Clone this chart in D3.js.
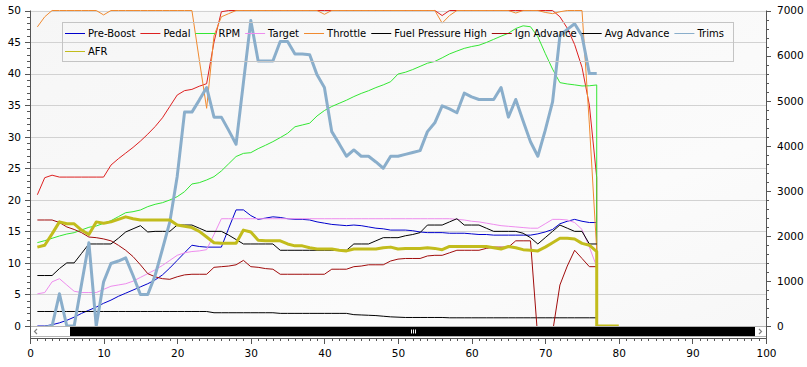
<!DOCTYPE html>
<html>
<head>
<meta charset="utf-8">
<script src="https://cdn.jsdelivr.net/npm/d3@7"></script>
<style>
  body { margin: 0; background: #ffffff; }
  svg { display: block; font-family: "DejaVu Sans", sans-serif; }
</style>
</head>
<body>
<svg></svg>
<script>
// Sample index along the x axis (one logged sample per step)
let sampleX = d3.range(1, 78);

// Series values (left axis unless noted)
let preBoost = [0,0,0.2,0.5,0.9,1.4,2.0,2.5,3.0,3.6, 4.1,4.7,5.2,5.7,6.2,6.7,7.3,8.1,9.2,10.4,
  11.6,12.8,12.6,12.5,12.5,12.5,15.5,18.4,18.4,17.5, 16.9,17.1,17.3,17.2,17.0,16.9,16.9,16.8,16.5,16.3,
  16.1,16.0,15.9,16.0,15.9,15.7,15.5,15.4,15.2,15.2, 15.2,15.1,14.9,14.8,14.8,14.8,14.7,14.7,14.7,14.6,
  14.5,14.5,14.4,14.4,14.4,14.4,14.4,14.4,14.6,14.9, 15.3,16.2,16.6,16.9,16.6,16.4,16.4];

let pedal = [20.8,23.5,23.9,23.6,23.6,23.6,23.6,23.6,23.6,23.6, 25.5,26.5,27.4,28.3,29.3,30.4,31.6,33.0,34.8,36.6,
  37.3,37.5,38.0,38.4,45.0,49.8,50,50,50,50, 50,50,50,50,50,50,50,50,50,50,
  50,50,50,50,50,50,50,50,50,50, 50,50,50,50,50,49.2,50,50,50,50,
  50,50,50,50,50,50,50,50,50,50, 50,49.0,47.2,44.6,41.0,35.0,23.5];

// right axis (rpm)
let rpm = [1850,1893,1946,1997,2041,2070,2130,2190,2219,2279, 2337,2425,2514,2536,2574,2648,2700,2736,2796,2869,
  2980,3151,3180,3240,3313,3440,3600,3760,3830,3846, 3935,4010,4090,4180,4276,4420,4460,4500,4660,4780,
  4870,4940,5010,5090,5160,5220,5290,5350,5420,5590, 5630,5690,5760,5830,5870,5950,6036,6100,6160,6200,
  6230,6290,6360,6430,6495,6600,6660,6640,6420,6050, 5700,5400,5370,5350,5326,5330,5348];

let target = [5.1,5.3,7.0,7.5,6.5,5.5,5.3,5.3,5.3,5.8, 6.3,6.5,6.7,7.1,7.7,8.3,8.9,9.6,10.4,11.2,
  11.6,11.8,11.9,12.1,14.5,17.0,17,17,17,17, 17,17,17,17,17,17,17,17,17,17,
  17,17,17,17,17,17,17,17,17,17, 17,17,17,17,17,17,17,16.9,16.8,16.6,
  16.5,16.3,16.1,15.9,15.8,15.7,15.6,15.5,15.5,16.2, 16.9,16.9,16.8,16.4,15.3,12.5,9.4];

let throttle = [47.4,49,50,50,50,50,50,50,50,49.3, 50,50,50,50,50,50,50,50,50,50,
  50,50,42.2,34.5,46,49,49.5,50,50,50, 50,50,50,50,50,50,50,50,50,49.4,
  50,50,50,50,50,50,50,50,50,50, 50,50,50,50,50,48,49.2,50,50,50,
  50,50,50,50,50,49.6,50,50,50,49.7, 49.5,49.8,50,50,50,32,12];

let fuelPressureHigh = [2.3,2.3,2.3,2.3,2.3,2.3,2.3,2.3,2.3,2.3, 2.3,2.3,2.3,2.3,2.3,2.3,2.3,2.3,2.3,2.3,
  2.3,2.3,2.3,2.3,2.1,2.1,2.1,2.1,2.1,2.1, 2.1,2.1,2.1,2.0,2.0,2.0,2.0,2.0,2.0,2.0,
  2.0,2.0,2.0,1.8,1.75,1.7,1.65,1.55,1.45,1.4, 1.35,1.35,1.35,1.35,1.35,1.35,1.3,1.3,1.3,1.3,
  1.3,1.3,1.3,1.3,1.3,1.3,1.3,1.3,1.3,1.3, 1.3,1.3,1.3,1.3,1.3,1.3,1.3];

let ignAdvance = [16.8,16.8,16.8,16.4,15.7,15.3,14.8,14.1,14.0,13.8, 13.5,12.8,12.0,11.0,9.7,8.3,7.8,7.5,7.4,7.8,
  8.1,8.2,8.2,8.2,9.3,9.4,9.5,9.7,10.4,9.4, 9.3,9.1,9.0,8.2,8.2,8.2,8.2,8.2,8.2,8.2,
  9.0,9.0,9.0,9.4,9.5,9.7,9.7,9.7,10.3,10.6, 10.7,10.7,10.7,11.1,11.2,11.2,11.6,12.0,12.0,12.0,
  12.0,12.3,12.5,12.5,12.5,13.5,13.5,13.5,-2,-4, -1,6.5,9.5,12.0,10.7,9.4,9.4];

let avgAdvance = [8,8,8,9.1,10,10,11.5,13,13,13, 13,13.9,14.9,15.4,15.9,14.9,15,15,15,16,
  16,16,15.5,15,15,15,14.4,13.7,13,13, 13,13,13,12,12,12,12,12,12,12,
  12,12,12,13,13,13,13.5,14,14,14, 14.3,14.5,14.8,16,16,16,16.5,17,16,16,
  16,15.5,15,15,15,15,14.7,14,13,14, 15,16,15.5,15,15,13,13];

let trims = [-0.5,-0.2,0,5.1,0,0,6.6,13.2,0,7.0, 9.9,10.3,10.8,8.0,5.0,5.0,8.0,12.2,16.5,23.7,
  33.9,33.9,35.8,37.8,33.1,33.1,31.0,28.8,38.6,48.4, 42,42,42,45.1,45.1,43.1,43.1,43.0,39.8,37.8,
  30.8,28.9,26.9,27.9,26.9,26.9,26.0,25.0,26.9,26.9, 27.2,27.5,27.8,30.8,32.2,34.9,34.4,33.8,36.9,36.3,
  35.9,35.9,35.9,37.8,33.1,35.9,32.5,29.2,26.9,31.0, 35.5,46,47,47.9,46,40,40];

let afr = [12.5,12.8,14.6,16.5,16.2,16.2,15.2,14.5,16.5,16.3, 16.5,16.9,17.3,17.0,16.8,16.8,16.8,16.8,16.8,16.0,
  15.8,15.6,15.0,14.1,13.2,13.1,13.1,13.1,15.2,14.9, 13.6,13.5,13.5,13.5,13.0,12.7,12.7,12.4,12.2,12.2,
  12.2,12.0,11.9,12.2,12.2,12.2,12.2,12.4,12.5,12.2, 12.3,12.3,12.3,12.4,12.3,12.1,12.6,12.6,12.6,12.6,
  12.6,12.6,12.4,12.2,12.6,12.4,12.1,12.0,11.9,12.5, 13.2,13.9,13.9,13.8,13.1,12.8,11.8];

// Logging stops at sample 77: these channels fall to zero there
let dropX = 77;
let droppingSeries = ['Pedal', 'Throttle', 'RPM', 'AFR'];
let afrTailEndX = 80;

// Axis ticks
let xTicks = d3.range(0, 101, 10);
let leftTicks = d3.range(0, 51, 5);
let rightTicks = d3.range(0, 7001, 1000);

// SVG dimensions
let width = 807, height = 367;
let plotLeft = 30, plotRight = 766, plotTop = 10.5, plotBottom = 326, axisY = 338;

let svg = d3.select('svg');
let xScale, yLeft, yRight;

let series = [
  { name: 'Pre-Boost', values: preBoost, color: '#0000cc', width: 1, axis: 'left' },
  { name: 'Pedal', values: pedal, color: '#dd2020', width: 1, axis: 'left' },
  { name: 'RPM', values: rpm, color: '#33e633', width: 1, axis: 'right' },
  { name: 'Target', values: target, color: '#ee8cee', width: 1, axis: 'left' },
  { name: 'Throttle', values: throttle, color: '#f08a30', width: 1, axis: 'left' },
  { name: 'Fuel Pressure High', values: fuelPressureHigh, color: '#000000', width: 1, axis: 'left' },
  { name: 'Ign Advance', values: ignAdvance, color: '#a00c0c', width: 1, axis: 'left' },
  { name: 'Avg Advance', values: avgAdvance, color: '#000000', width: 1, axis: 'left' },
  { name: 'Trims', values: trims, color: '#8aaecb', width: 3, axis: 'left' },
  { name: 'AFR', values: afr, color: '#c2bc1c', width: 3, axis: 'left' }
];

function drawSvg() {
  svg.attr('width', width).attr('height', height);
}

function generateScales() {
  xScale = d3.scaleLinear().domain([0, 100]).range([plotLeft, plotRight]);
  yLeft = d3.scaleLinear().domain([0, 50]).range([plotBottom, plotTop]);
  yRight = d3.scaleLinear().domain([0, 7000]).range([plotBottom, plotTop]);
}

function drawBackground() {
  let grad = svg.append('defs').append('linearGradient')
    .attr('id', 'bg').attr('x1', 0).attr('y1', 0).attr('x2', 1).attr('y2', 1);
  grad.append('stop').attr('offset', '0%').attr('stop-color', '#f6f6f6');
  grad.append('stop').attr('offset', '70%').attr('stop-color', '#fbfbfb');
  grad.append('stop').attr('offset', '100%').attr('stop-color', '#f7f7f7');

  svg.append('rect')
    .attr('x', plotLeft).attr('y', plotTop)
    .attr('width', plotRight - plotLeft).attr('height', plotBottom - plotTop)
    .attr('fill', 'url(#bg)');

  // horizontal grid lines
  svg.append('g')
    .selectAll('line')
    .data(leftTicks)
    .enter()
    .append('line')
    .attr('x1', plotLeft).attr('x2', plotRight)
    .attr('y1', d => Math.round(yLeft(d)) + 0.5)
    .attr('y2', d => Math.round(yLeft(d)) + 0.5)
    .attr('stroke', '#d2d2d2')
    .attr('stroke-width', 1);
}

function generateAxes() {
  let axisColor = '#555555';

  // left axis: minor then major ticks
  let leftMinor = d3.axisLeft(yLeft).tickValues(d3.range(0, 51, 1)).tickSize(3).tickFormat('');
  let leftMajor = d3.axisLeft(yLeft).tickValues(leftTicks).tickSize(5).tickPadding(4);
  [leftMinor, leftMajor].forEach(ax => {
    svg.append('g')
      .attr('class', 'axis')
      .attr('transform', `translate(${plotLeft}, 0)`)
      .call(ax);
  });

  // right axis
  let rightMinor = d3.axisRight(yRight).tickValues(d3.range(0, 7001, 200)).tickSize(3).tickFormat('');
  let rightMajor = d3.axisRight(yRight).tickValues(rightTicks).tickSize(5).tickPadding(6).tickFormat(d3.format('d'));
  [rightMinor, rightMajor].forEach(ax => {
    svg.append('g')
      .attr('class', 'axis')
      .attr('transform', `translate(${plotRight}, 0)`)
      .call(ax);
  });

  // bottom axis (below the scroll bar)
  let xMinor = d3.axisBottom(xScale).tickValues(d3.range(0, 101, 1)).tickSize(3).tickFormat('');
  let xMajor = d3.axisBottom(xScale).tickValues(xTicks).tickSize(6).tickPadding(6);
  [xMinor, xMajor].forEach(ax => {
    svg.append('g')
      .attr('class', 'axis')
      .attr('transform', `translate(0, ${axisY})`)
      .call(ax);
  });

  svg.selectAll('.axis .domain').remove();
  svg.selectAll('.axis line').attr('stroke', axisColor).attr('shape-rendering', 'crispEdges');
  svg.selectAll('.axis text')
    .attr('fill', '#000')
    .style('font-size', '10.5px')
    .style('font-family', '"DejaVu Sans", sans-serif');

  // axis lines
  svg.append('line').attr('x1', plotLeft + 0.5).attr('x2', plotLeft + 0.5)
    .attr('y1', plotTop).attr('y2', axisY).attr('stroke', axisColor);
  svg.append('line').attr('x1', plotRight + 0.5).attr('x2', plotRight + 0.5)
    .attr('y1', plotTop).attr('y2', axisY).attr('stroke', axisColor);
  svg.append('line').attr('x1', plotLeft).attr('x2', plotRight + 1)
    .attr('y1', axisY + 0.5).attr('y2', axisY + 0.5).attr('stroke', axisColor);
}

function drawLines() {
  svg.append('clipPath').attr('id', 'plotClip')
    .append('rect')
    .attr('x', plotLeft).attr('y', plotTop - 2)
    .attr('width', plotRight - plotLeft).attr('height', plotBottom - plotTop + 3);

  let plot = svg.append('g').attr('clip-path', 'url(#plotClip)');

  series.forEach(s => {
    let yScale = s.axis === 'right' ? yRight : yLeft;
    let points = s.values.map((v, i) => ({ x: sampleX[i], y: v }));
    if (droppingSeries.includes(s.name)) points.push({ x: dropX, y: 0 });
    if (s.name === 'AFR') points.push({ x: afrTailEndX, y: 0 });

    let line = d3.line()
      .x(d => xScale(d.x))
      .y(d => yScale(d.y));

    plot.append('path')
      .datum(points)
      .attr('d', line)
      .attr('fill', 'none')
      .attr('stroke', s.color)
      .attr('stroke-width', s.width)
      .attr('stroke-linejoin', 'round');
  });
}

function drawScrollBar() {
  let top = 326.5, h = 10;
  let bar = svg.append('g');
  bar.append('rect')
    .attr('x', plotLeft + 0.5).attr('y', top)
    .attr('width', plotRight - plotLeft).attr('height', h)
    .attr('fill', '#ffffff').attr('stroke', '#b4b4b4');
  // thumb
  bar.append('rect')
    .attr('x', 70).attr('y', top + 0.5)
    .attr('width', 755 - 70).attr('height', h - 1)
    .attr('fill', '#000000');
  // grip
  [-2, 0, 2].forEach(dx => {
    bar.append('line')
      .attr('x1', 413.5 + dx).attr('x2', 413.5 + dx)
      .attr('y1', top + 3).attr('y2', top + 7)
      .attr('stroke', '#ffffff');
  });
  // arrows
  bar.append('path').attr('d', `M37,${top + 2.5} L34.5,${top + 5} L37,${top + 7.5}`)
    .attr('fill', 'none').attr('stroke', '#808080').attr('stroke-width', 1.2);
  bar.append('path').attr('d', `M759,${top + 2.5} L761.5,${top + 5} L759,${top + 7.5}`)
    .attr('fill', 'none').attr('stroke', '#808080').attr('stroke-width', 1.2);
}

function drawLegend() {
  let boxX = 62, boxY = 22, boxW = 671, boxH = 39;
  let legend = svg.append('g').attr('id', 'legend');

  legend.append('rect')
    .attr('x', boxX + 0.5).attr('y', boxY + 0.5)
    .attr('width', boxW).attr('height', boxH)
    .attr('fill', 'none')
    .attr('stroke', '#c4c4c4');

  let x = 65, row = 0;
  series.forEach(s => {
    let text = legend.append('text')
      .attr('y', 33 + row * 18)
      .attr('dy', '0.35em')
      .style('font-size', '10px')
      .style('font-family', '"DejaVu Sans", sans-serif')
      .attr('fill', '#000')
      .text(s.name);
    let w = text.node().getComputedTextLength();
    if (x + 23 + w > boxX + boxW - 3) {
      row += 1;
      x = 65;
      text.attr('y', 33 + row * 18);
    }
    text.attr('x', x + 23);
    legend.append('line')
      .attr('x1', x).attr('x2', x + 20)
      .attr('y1', 33.5 + row * 18).attr('y2', 33.5 + row * 18)
      .attr('stroke', s.color)
      .attr('stroke-width', 1);
    x = x + 23 + w + 5;
  });
}

drawSvg();
generateScales();
drawBackground();
drawLines();
drawScrollBar();
generateAxes();
drawLegend();
</script>
</body>
</html>
